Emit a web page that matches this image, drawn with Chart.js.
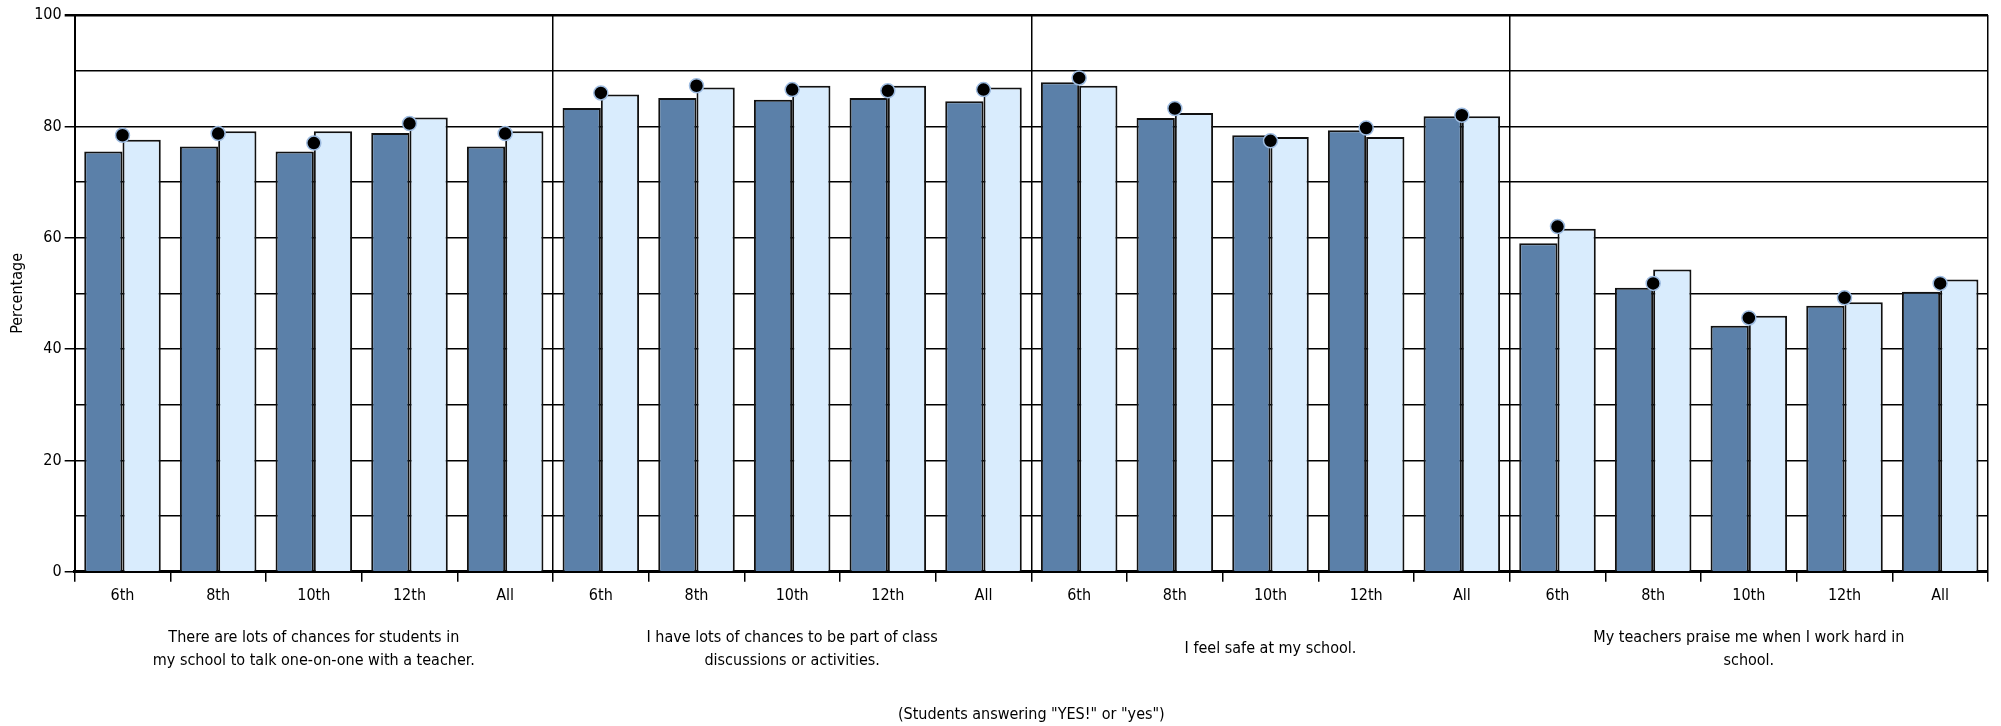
<!DOCTYPE html>
<html>
<head>
<meta charset="utf-8">
<script src="https://cdn.jsdelivr.net/npm/chart.js@4.4.0/dist/chart.umd.min.js"></script>
<style>
  html, body { margin: 0; padding: 0; background: #fff; }
</style>
</head>
<body>
<canvas id="surveyChart" width="2001" height="726"></canvas>
<script>
const grades = ['6th', '8th', '10th', '12th', 'All'];
const statements = [
    ['There are lots of chances for students in', 'my school to talk one-on-one with a teacher.'],
    ['I have lots of chances to be part of class', 'discussions or activities.'],
    'I feel safe at my school.',
    ['My teachers praise me when I work hard in', 'school.']
];
// dark bars, light bars and the black dots, 5 grades per statement
const darkValues = [75.5, 76.4, 75.5, 78.8, 76.4, 83.3, 85.1, 84.8, 85.1, 84.5, 87.9, 81.5, 78.4, 79.3, 81.8, 59.0, 51.0, 44.2, 47.8, 50.3];
const lightValues = [77.6, 79.1, 79.1, 81.6, 79.1, 85.7, 87.0, 87.3, 87.3, 87.0, 87.3, 82.4, 78.1, 78.1, 81.8, 61.6, 54.3, 46.0, 48.4, 52.5];
const dotValues = [78.4, 78.7, 77.0, 80.5, 78.7, 86.0, 87.3, 86.6, 86.4, 86.6, 88.7, 83.2, 77.4, 79.7, 82.0, 62.0, 51.8, 45.6, 49.2, 51.8];
const yTicks = [0, 20, 40, 60, 80, 100];

const FONT = "'Liberation Sans Narrow', 'DejaVu Sans Condensed', sans-serif";
const labels = statements.flatMap(() => grades);

const ctx = document.getElementById('surveyChart').getContext('2d');
const chart = new Chart(ctx, {
    type: 'bar',
    data: {
        labels: labels,
        datasets: [
            {
                type: 'line',
                data: dotValues,
                showLine: false,
                pointRadius: 7,
                pointBackgroundColor: '#000',
                pointBorderColor: '#9dbbe0',
                pointBorderWidth: 1.5,
                order: 0
            },
            {
                data: darkValues,
                backgroundColor: '#5b80a9',
                borderColor: '#111',
                borderWidth: 2,
                order: 1
            },
            {
                data: lightValues,
                backgroundColor: '#d9ecfd',
                borderColor: '#111',
                borderWidth: 2,
                order: 1
            }
        ]
    },
    options: {
        responsive: false,
        animation: false,
        devicePixelRatio: 1,
        layout: { padding: { left: 4, right: 13, top: 15, bottom: 2 } },
        plugins: {
            legend: { display: false },
            tooltip: { enabled: false }
        },
        datasets: {
            bar: { categoryPercentage: 0.8, barPercentage: 1.0 }
        },
        scales: {
            x: {
                offset: true,
                weight: 0,
                border: { color: '#000', width: 3 },
                grid: {
                    offset: true,
                    lineWidth: 1.5,
                    tickLength: 10,
                    color: (c) => (c.tick && c.index % 5 !== 0) ? 'rgba(0,0,0,0)' : '#000',
                    tickColor: '#000'
                },
                ticks: {
                    autoSkip: false,
                    maxRotation: 0,
                    padding: 4,
                    color: '#000',
                    font: { family: FONT, size: 16 }
                }
            },
            x2: {
                type: 'category',
                position: 'bottom',
                weight: 1,
                labels: statements,
                offset: true,
                grid: { display: false },
                border: { display: false },
                ticks: {
                    autoSkip: false,
                    maxRotation: 0,
                    crossAlign: 'center',
                    padding: 21,
                    color: '#000',
                    font: { family: FONT, size: 16, lineHeight: 1.4 }
                },
                title: {
                    display: true,
                    text: '(Students answering "YES!" or "yes")',
                    color: '#000',
                    padding: { top: 1, bottom: 0 },
                    font: { family: FONT, size: 16 }
                }
            },
            y: {
                min: 0,
                max: 100,
                border: { color: '#000', width: 2 },
                grid: {
                    lineWidth: (c) => c.tick && c.tick.value === 100 ? 2.5 : 1.5,
                    color: '#000',
                    tickLength: 10,
                    tickColor: (c) => c.tick && yTicks.includes(c.tick.value) ? '#000' : 'rgba(0,0,0,0)'
                },
                ticks: {
                    stepSize: 10,
                    padding: 3,
                    color: '#000',
                    font: { family: FONT, size: 16 },
                    callback: (v) => yTicks.includes(v) ? v : ''
                },
                title: {
                    display: true,
                    text: 'Percentage',
                    color: '#000',
                    padding: 4,
                    font: { family: FONT, size: 16 }
                }
            }
        }
    }
});
</script>
</body>
</html>
